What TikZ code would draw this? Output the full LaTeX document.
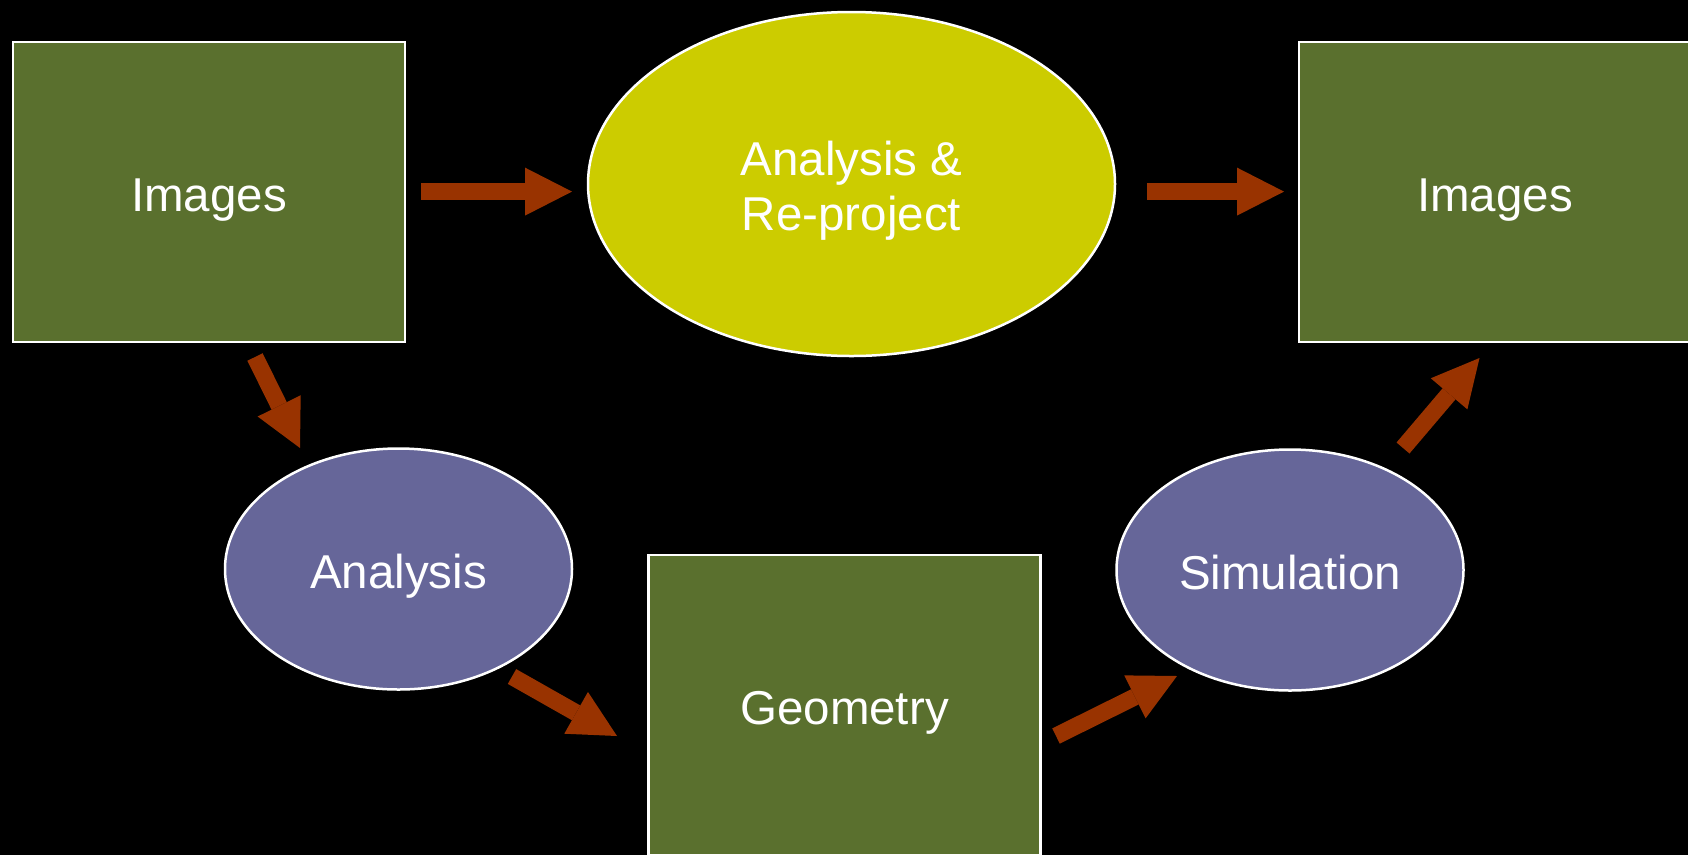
\documentclass[tikz,border=0pt]{standalone}
\usepackage{fontspec}
\setmainfont{Liberation Sans}
\usetikzlibrary{shapes.geometric,arrows.meta}
\definecolor{boxgreen}{HTML}{5A702E}
\definecolor{ellyellow}{HTML}{CCCC00}
\definecolor{ellpurple}{HTML}{666699}
\definecolor{arrowred}{HTML}{993300}
\begin{document}
\begin{tikzpicture}[x=1pt,y=-1pt,
  every node/.style={text=white, font=\fontsize{47.5}{54.5}\selectfont, align=center, inner sep=0pt, text depth=0pt},
  oneline/.style={text height=38pt},
  boxnode/.style={oneline, draw=white, line width=2.5pt, fill=boxgreen, minimum width=392pt, minimum height=300pt},
  bigell/.style={ellipse, draw=white, line width=2.5pt, fill=ellyellow, minimum width=527pt, minimum height=344pt, text height=92.5pt},
  smallell/.style={oneline, ellipse, draw=white, line width=2.5pt, fill=ellpurple, minimum width=347pt, minimum height=241pt},
  flow/.style={draw=arrowred, line width=17pt, -{Triangle[width=48pt,length=47pt,line width=0pt]}}]
\useasboundingbox (0,0) rectangle (1688,855);
\clip (0,0) rectangle (1688,855);
\fill[black] (0,0) rectangle (1688,855);
% nodes
\node[boxnode] (imgL) at (209,192) {Images};
\node[bigell] (reproj) at (851.5,184) {Analysis \&\\Re-project};
\node[boxnode] (imgR) at (1495,192) {Images};
\node[smallell] (anal) at (398.5,569) {Analysis};
\node[boxnode] (geom) at (844.5,705) {Geometry};
\node[smallell] (sim) at (1290,570) {Simulation};
% arrow end points
\coordinate (a1s) at (421,191.6);   \coordinate (a1e) at (572,191.6);
\coordinate (a2s) at (1147,191.6);  \coordinate (a2e) at (1284,191.6);
\coordinate (a3s) at (255,357);     \coordinate (a3e) at (300,448);
\coordinate (a4s) at (512,676.5);   \coordinate (a4e) at (617,736);
\coordinate (a5s) at (1056,736);    \coordinate (a5e) at (1177,676);
\coordinate (a6s) at (1403,448);    \coordinate (a6e) at (1479.5,358);
% connectors
\draw[flow] (a1s) -- (a1e);
\draw[flow] (a2s) -- (a2e);
\draw[flow] (a3s) -- (a3e);
\draw[flow] (a4s) -- (a4e);
\draw[flow] (a5s) -- (a5e);
\draw[flow] (a6s) -- (a6e);
\end{tikzpicture}
\end{document}
